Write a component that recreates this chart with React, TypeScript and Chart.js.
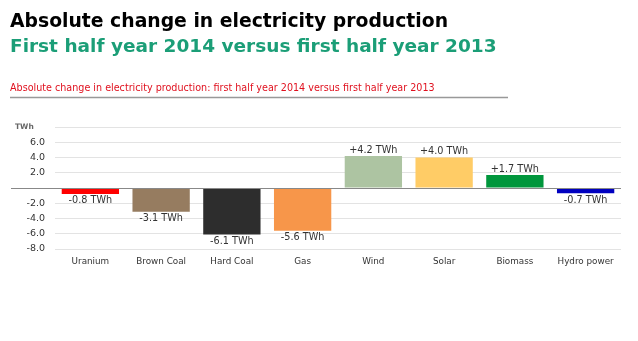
import React, { useEffect, useRef } from "react";
import { Chart, registerables } from "chart.js";

Chart.register(...registerables);

const categories = ["Uranium", "Brown Coal", "Hard Coal", "Gas", "Wind", "Solar", "Biomass", "Hydro power"];
const changes = [-0.8, -3.1, -6.1, -5.6, 4.2, 4.0, 1.7, -0.7];
const barColors = ["#ff0000", "#967c60", "#2d2d2d", "#f7964a", "#adc4a2", "#ffcc66", "#00963c", "#0000c0"];
const yTicks = [-8, -6, -4, -2, 0, 2, 4, 6, 8];

const titleMain = "Absolute change in electricity production";
const titleSub = "First half year 2014 versus first half year 2013";
const chartCaption = "Absolute change in electricity production: first half year 2014 versus first half year 2013";
const unitLabel = "TWh";

const FONT = "'DejaVu Sans', Verdana, sans-serif";

const decorPlugin = {
  id: "decor",
  beforeDraw(chart: any) {
    const ctx = chart.ctx;
    ctx.save();
    ctx.fillStyle = "#ffffff";
    ctx.fillRect(0, 0, chart.width, chart.height);
    ctx.textAlign = "left";
    ctx.textBaseline = "alphabetic";
    ctx.fillStyle = "#000000";
    ctx.font = `bold 18.8px ${FONT}`;
    ctx.fillText(titleMain, 10, 27);
    ctx.fillStyle = "#1b9e77";
    ctx.font = `bold 18.5px ${FONT}`;
    ctx.fillText(titleSub, 10, 52);
    ctx.fillStyle = "#e0101e";
    ctx.font = `9.6px ${FONT}`;
    ctx.fillText(chartCaption, 10, 91);
    ctx.strokeStyle = "#999999";
    ctx.lineWidth = 1.5;
    ctx.beginPath();
    ctx.moveTo(10, 97.5);
    ctx.lineTo(508, 97.5);
    ctx.stroke();
    ctx.fillStyle = "#666666";
    ctx.font = `bold 7.5px ${FONT}`;
    ctx.textBaseline = "middle";
    const y8 = chart.scales.y.getPixelForValue(8);
    ctx.fillText(unitLabel, 15, y8);
    ctx.restore();
  },
  afterDatasetsDraw(chart: any) {
    const ctx = chart.ctx;
    const y0 = chart.scales.y.getPixelForValue(0);
    ctx.save();
    ctx.strokeStyle = "#888888";
    ctx.lineWidth = 1;
    ctx.beginPath();
    ctx.moveTo(11, Math.round(y0) + 0.5);
    ctx.lineTo(chart.chartArea.right, Math.round(y0) + 0.5);
    ctx.stroke();
    const meta = chart.getDatasetMeta(0);
    ctx.fillStyle = "#333333";
    ctx.font = `9.7px ${FONT}`;
    ctx.textAlign = "center";
    meta.data.forEach((bar: any, i: number) => {
      const v = changes[i];
      const txt = `${v > 0 ? "+" : ""}${v.toFixed(1)} ${unitLabel}`;
      if (v >= 0) {
        ctx.textBaseline = "bottom";
        ctx.fillText(txt, bar.x, bar.y - 1);
      } else {
        ctx.textBaseline = "top";
        ctx.fillText(txt, bar.x, bar.y + 2);
      }
    });
    ctx.restore();
  },
};

export default function App() {
  const ref = useRef<HTMLCanvasElement>(null);
  useEffect(() => {
    if (!ref.current) return;
    const chart = new Chart(ref.current, {
      type: "bar",
      data: {
        labels: categories,
        datasets: [
          {
            data: changes,
            backgroundColor: barColors,
            borderWidth: 0,
            barPercentage: 0.81,
            categoryPercentage: 1,
          },
        ],
      },
      options: {
        animation: false,
        responsive: false,
        devicePixelRatio: 1,
        layout: { padding: { top: 127, left: 0, right: 17, bottom: 62 } },
        plugins: { legend: { display: false }, tooltip: { enabled: false }, title: { display: false } },
        scales: {
          x: {
            grid: { display: false, drawTicks: false },
            border: { display: false },
            ticks: { color: "#333333", font: { family: FONT, size: 8.8 }, padding: 7, maxRotation: 0 },
            afterFit: (s: any) => { s.height = 30; },
          },
          y: {
            min: -8,
            max: 8,
            afterBuildTicks: (s: any) => { s.ticks = yTicks.map((v) => ({ value: v })); },
            grid: { color: "#e3e3e3", lineWidth: 1, drawTicks: false },
            border: { display: false },
            ticks: {
              color: "#333333",
              font: { family: FONT, size: 9.5 },
              padding: 10,
              callback: (v: any) => (v === 0 || v === 8 ? "" : Number(v).toFixed(1)),
            },
            afterFit: (s: any) => { s.width = 55; },
          },
        },
      },
      plugins: [decorPlugin],
    });
    return () => chart.destroy();
  }, []);
  return (
    <div style={{ position: "absolute", left: 0, top: 0 }}>
      <canvas ref={ref} width={638} height={341} style={{ width: 638, height: 341, display: "block" }} />
    </div>
  );
}
